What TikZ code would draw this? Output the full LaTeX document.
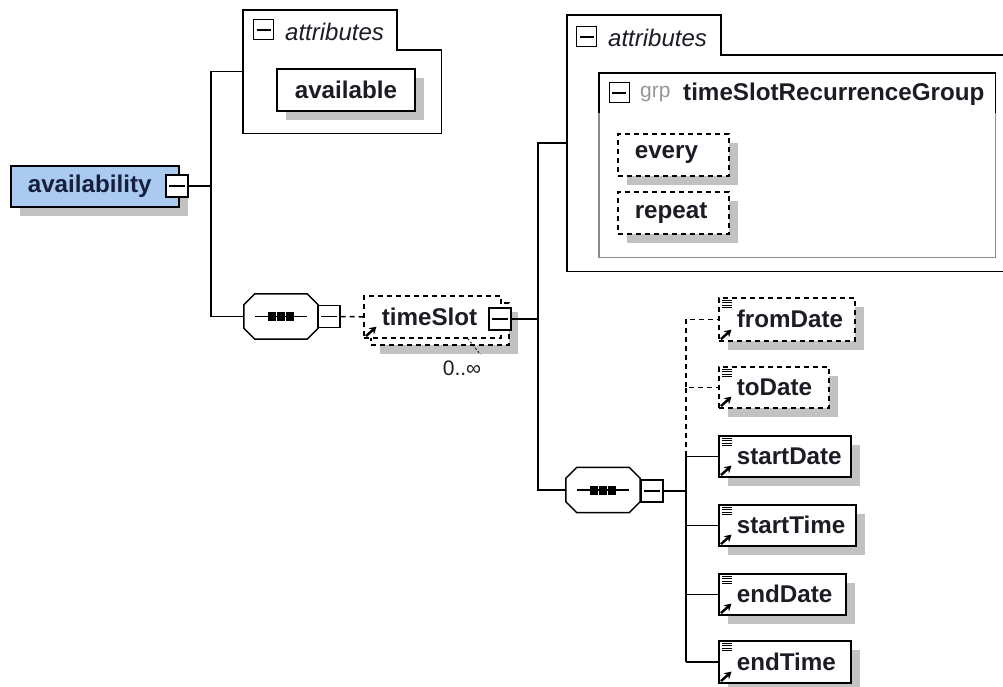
\documentclass[tikz,border=0pt]{standalone}
\usepackage{fontspec}
\setmainfont{Liberation Sans}
\usetikzlibrary{shadows,calc,arrows.meta}
\definecolor{shadowgrey}{RGB}{194,194,194}
\definecolor{avblue}{RGB}{170,202,240}
\definecolor{txtdark}{RGB}{28,28,36}
\definecolor{navy}{RGB}{22,32,62}
\definecolor{grpgrey}{RGB}{150,150,150}
\definecolor{boxgrey}{RGB}{140,140,140}
\newcommand\efont{\fontsize{24.2}{28}\selectfont\bfseries}
\newcommand\arrowicon[1]{%
  \draw[line width=2.4pt,-{Stealth[length=7pt,width=8pt]}] ($(#1.south west)+(3,-2.5)$) -- ++(10.5,-9.5);}
\newcommand\elemicon[1]{%
  \foreach \dy in {3,5.5,8,10.5}{\draw[line width=1pt] ($(#1.north west)+(4,\dy)$) -- ++(10,0);}
  \arrowicon{#1}}
\newcommand\octpath[1]{($(#1.north west)+(11,0)$) -- ($(#1.north east)+(-11,0)$) -- ($(#1.north east)+(0,11)$)
    -- ($(#1.south east)+(0,-11)$) -- ($(#1.south east)+(-11,0)$) -- ($(#1.south west)+(11,0)$)
    -- ($(#1.south west)+(0,-11)$) -- ($(#1.north west)+(0,11)$) -- cycle}
\newcommand\seqshape[1]{%
  \fill[shadowgrey, shift={(8,9)}] \octpath{#1};
  \draw[line width=1.5pt, fill=white] \octpath{#1};
  \draw[line width=1.4pt] ($(#1.center)+(-26,0)$) -- ($(#1.center)+(26,0)$);
  \foreach \dx in {-9,0,9}{\fill ($(#1.center)+(\dx-4,-4.5)$) rectangle ++(8,9);}}
\tikzset{
  line/.style={line width=1.5pt, draw=black},
  dline/.style={line, dash pattern=on 5pt off 4pt},
  elemns/.style={draw=black, line width=1.6pt, fill=white, anchor=north west, inner xsep=0pt, inner ysep=0pt, align=left, font=\efont, text=txtdark},
  elem/.style={elemns, general shadow={fill=shadowgrey, shadow xshift=9pt, shadow yshift=-9pt}},
  optelem/.style={elem, dash pattern=on 5pt off 4pt},
  optelemns/.style={elemns, dash pattern=on 5pt off 4pt},
  minusicon/.style={draw=black, fill=white, line width=1.4pt, minimum width=22pt, minimum height=22pt, inner sep=0pt,
    path picture={\draw[line width=1.5pt] ([xshift=3pt]path picture bounding box.west) -- ([xshift=-3pt]path picture bounding box.east);}},
  tabminus/.style={minusicon, minimum width=20pt, minimum height=20pt, line width=1pt},
  seqbox/.style={draw=none, minimum width=74pt, minimum height=45pt, inner sep=0pt},
  tabtext/.style={font=\fontsize{24}{28}\selectfont\itshape, text=txtdark, anchor=west, inner sep=0pt},
  region/.style={draw=none, anchor=north west, inner sep=0pt},
}
\begin{document}
\begin{tikzpicture}[x=1pt,y=-1pt]
\useasboundingbox (0,0) rectangle (1003,687);
\clip (0,0) rectangle (1003,687);
\fill[white] (0,0) rectangle (1003,687);

% ---------- availability ----------
\node[elem, fill=avblue, text=navy, minimum width=168pt, minimum height=41pt, text width=168pt] (avail) at (10,165) {\hspace*{17pt}availability};
\node[minusicon] (avmin) at (177,186) {};
\coordinate (j1) at (211,186);

% ---------- attributes group 1 ----------
\node[region, minimum width=198pt, minimum height=123pt] (attr1) at (243,10) {};
\draw[line] (attr1.north west) -- ++(154,0) -- ++(0,40) -| (attr1.south east) -- (attr1.south west) -- cycle;
\node[tabminus] (attr1min) at (263.5,30) {};
\node[tabtext] (attr1txt) at (285,32) {attributes};
\node[elem, minimum width=138pt, minimum height=42pt, text width=138pt] (available) at (276,68) {\hspace*{18pt}available};

% ---------- sequence 1 ----------
\node[seqbox] (seq1) at (281,316.5) {};
\seqshape{seq1}
\node[minusicon] (seq1min) at (329,316.5) {};

% ---------- timeSlot ----------
\node[optelem, minimum width=138pt, minimum height=42pt] (tsback) at (370,302) {};
\node[optelemns, minimum width=137pt, minimum height=42pt, text width=137pt] (timeSlot) at (363,295) {\hspace*{18pt}timeSlot};
\arrowicon{timeSlot}
\node[minusicon] (tsmin) at (500,319) {};
\node[font=\fontsize{21}{24}\selectfont, text=txtdark, inner sep=1pt] (occ) at (462,368) {0..∞};
\draw[line width=0.8pt, dash pattern=on 2pt off 2pt] ($(tsback.south)+(28,-7)$) -- ($(occ.north east)+(-2,-5)$);
\coordinate (j2) at (538,319);

% ---------- attributes group 2 ----------
\node[region, minimum width=443pt, minimum height=256pt] (attr2) at (567,15) {};
\draw[line] (attr2.north west) -- ++(154,0) -- ++(0,40) -| (attr2.south east) -- (attr2.south west) -- cycle;
\node[tabminus] (attr2min) at (586.5,37) {};
\node[tabtext] (attr2txt) at (608,38) {attributes};
\node[region, minimum width=396pt, minimum height=184pt] (grp) at (599,73) {};
\draw[line width=1.5pt, draw=boxgrey] (grp.north west) rectangle (grp.south east);
\draw[line] ($(grp.north west)+(0,40)$) -- (grp.north west) -- (grp.north east) -- ++(0,40);
\node[tabminus] (grpmin) at (619,93) {};
\node[anchor=west, inner sep=0pt, font=\fontsize{21}{25}\selectfont, text=grpgrey] (grpkw) at (640,94) {grp};
\node[anchor=west, inner sep=0pt, font=\efont, text=txtdark] (grpname) at (683,94) {timeSlotRecurrenceGroup};
\node[optelem, minimum width=111pt, minimum height=42pt, text width=111pt] (every) at (617,133) {\hspace*{17pt}every};
\node[optelem, minimum width=111pt, minimum height=42pt, text width=111pt] (repeat) at (617,191) {\hspace*{17pt}repeat};

% ---------- sequence 2 ----------
\node[seqbox] (seq2) at (603,490) {};
\seqshape{seq2}
\node[minusicon] (seq2min) at (652,491) {};
\coordinate (j3) at (686,491);

% ---------- child elements ----------
\node[optelem, minimum width=136pt, minimum height=43pt, text width=136pt] (fromDate) at (718,297) {\hspace*{18pt}fromDate};
\node[optelem, minimum width=110pt, minimum height=41pt, text width=110pt] (toDate) at (718,366) {\hspace*{18pt}toDate};
\node[elem, minimum width=132pt, minimum height=41pt, text width=132pt] (startDate) at (718,435) {\hspace*{18pt}startDate};
\node[elem, minimum width=137pt, minimum height=41pt, text width=137pt] (startTime) at (718,504) {\hspace*{18pt}startTime};
\node[elem, minimum width=127pt, minimum height=41pt, text width=127pt] (endDate) at (718,573) {\hspace*{18pt}endDate};
\node[elem, minimum width=132pt, minimum height=42pt, text width=132pt] (endTime) at (718,640) {\hspace*{18pt}endTime};
\foreach \n in {fromDate,toDate,startDate,startTime,endDate,endTime}{\elemicon{\n}}

% ---------- connectors ----------
\draw[line] (avmin.east) -- (j1);
\draw[line] (j1) |- (attr1.west);
\draw[line] (j1) |- (seq1.west);
\draw[dline] (seq1min.east) -- (timeSlot.west);
\draw[line] (tsmin.east) -- (j2);
\draw[line] (j2) |- (attr2.west);
\draw[line] (j2) |- (seq2.west);
\draw[line] (seq2min.east) -- (j3);
\draw[line] (j3 |- startDate.west) -- (j3 |- endTime.west);
\foreach \n in {startDate,startTime,endDate,endTime}{\draw[line] (j3 |- \n.west) -- (\n.west);}
\draw[dline] (j3 |- startDate.west) |- (toDate.west);
\draw[dline] (j3 |- toDate.west) |- (fromDate.west);
\end{tikzpicture}
\end{document}
